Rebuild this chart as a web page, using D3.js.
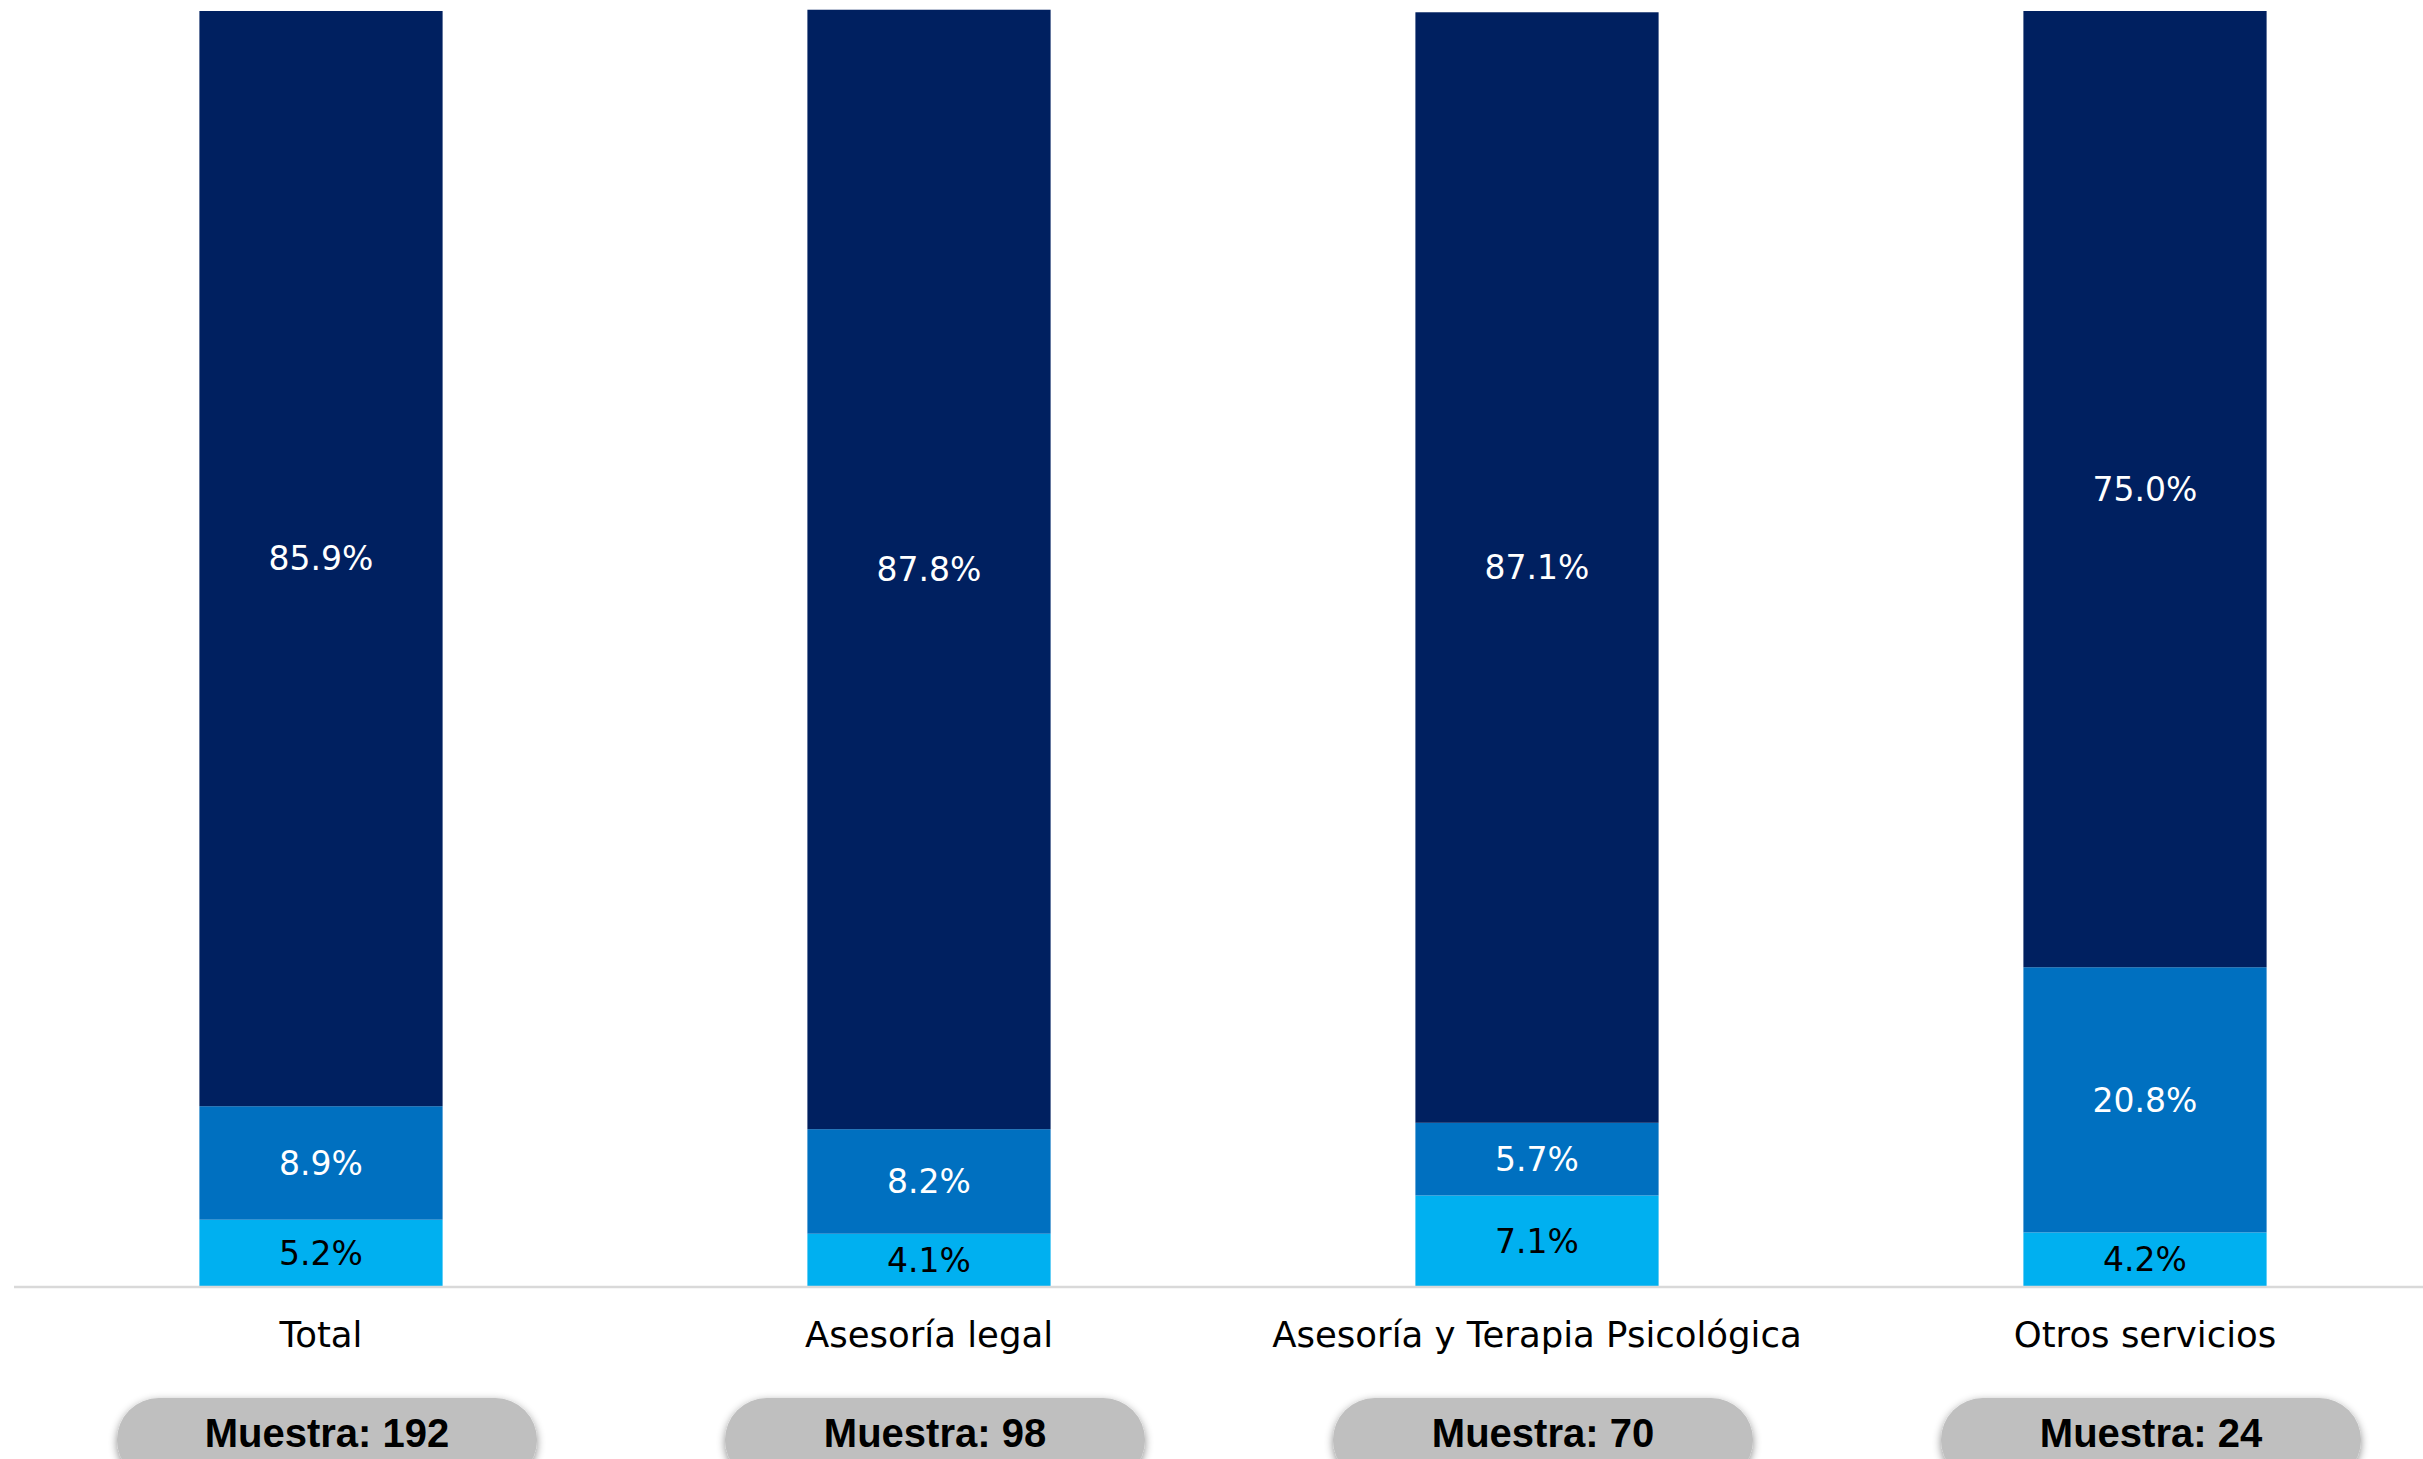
<!DOCTYPE html>
<html>
<head>
<meta charset="utf-8">
<script src="https://cdn.jsdelivr.net/npm/d3@7"></script>
<style>
  html, body { margin: 0; padding: 0; background: #ffffff; }
  svg { display: block; }
</style>
</head>
<body>
<svg id="chart" width="2423" height="1459"></svg>
<script>
// Service categories shown along the x axis
const categories = ["Total", "Asesoría legal", "Asesoría y Terapia Psicológica", "Otros servicios"];

// Stacked shares (%) per category, bottom to top
const seriesBottom = [5.2, 4.1, 7.1, 4.2];
const seriesMiddle = [8.9, 8.2, 5.7, 20.8];
const seriesTop    = [85.9, 87.8, 87.1, 75.0];

// Sample sizes shown under each category
const sampleSizes = [192, 98, 70, 24];

const seriesKeys = ["bottom", "middle", "top"];
const seriesColors = { bottom: "#00B0F0", middle: "#0070C0", top: "#002060" };
const labelColors  = { bottom: "#000000", middle: "#ffffff", top: "#ffffff" };

const rows = categories.map((c, i) => ({
  category: c,
  bottom: seriesBottom[i],
  middle: seriesMiddle[i],
  top: seriesTop[i],
  n: sampleSizes[i]
}));

const svg = d3.select("#chart");
const W = 2423, H = 1459;
const baseY = 1286, topY = 11;

const x = d3.scaleBand()
  .domain(categories)
  .range([17, 2449])
  .paddingInner(0.6)
  .paddingOuter(0.3);

const y = d3.scaleLinear()
  .domain([0, 100])
  .range([baseY, topY]);

const stacked = d3.stack().keys(seriesKeys)(rows);

// Drop shadow used by the sample-size pills
const defs = svg.append("defs");
const f = defs.append("filter").attr("id", "pillShadow")
  .attr("x", "-10%").attr("y", "-30%").attr("width", "120%").attr("height", "160%");
f.append("feDropShadow")
  .attr("dx", 0).attr("dy", 3)
  .attr("stdDeviation", 4)
  .attr("flood-color", "#000").attr("flood-opacity", 0.45);

// Stacked bars
const layers = svg.append("g").selectAll("g")
  .data(stacked)
  .join("g")
  .attr("fill", d => seriesColors[d.key]);

layers.selectAll("rect")
  .data(d => d.map(s => ({ s, key: d.key })))
  .join("rect")
  .attr("x", d => x(d.s.data.category))
  .attr("y", d => y(d.s[1]))
  .attr("width", x.bandwidth())
  .attr("height", d => y(d.s[0]) - y(d.s[1]));

// Segment value labels
const fmt = d3.format(".1f");
stacked.forEach(layer => {
  svg.append("g").selectAll("text")
    .data(layer)
    .join("text")
    .attr("x", d => x(d.data.category) + x.bandwidth() / 2)
    .attr("y", d => (y(d[0]) + y(d[1])) / 2)
    .attr("dy", "0.36em")
    .attr("text-anchor", "middle")
    .attr("font-family", "'DejaVu Sans', sans-serif")
    .attr("font-size", 33)
    .attr("fill", labelColors[layer.key])
    .text(d => fmt(d.data[layer.key]) + "%");
});

// Category axis
const axis = svg.append("g").attr("transform", `translate(0,${baseY})`);
axis.append("line")
  .attr("x1", 14).attr("x2", W)
  .attr("y1", 1).attr("y2", 1)
  .attr("stroke", "#d9d9d9").attr("stroke-width", 2.5);

axis.selectAll("text.cat")
  .data(categories)
  .join("text")
  .attr("class", "cat")
  .attr("x", d => x(d) + x.bandwidth() / 2)
  .attr("y", 61)
  .attr("text-anchor", "middle")
  .attr("font-family", "'DejaVu Sans', sans-serif")
  .attr("font-size", 35.5)
  .attr("fill", "#000")
  .text(d => d);

// Sample-size pills
const pillW = 420, pillH = 84;
const pills = svg.append("g").selectAll("g")
  .data(rows)
  .join("g")
  .attr("transform", d => `translate(${x(d.category) + x.bandwidth() / 2 + 6},1398)`);

pills.append("rect")
  .attr("x", -pillW / 2).attr("y", 0)
  .attr("width", pillW).attr("height", pillH)
  .attr("rx", pillH / 2).attr("ry", pillH / 2)
  .attr("fill", "#bfbfbf")
  .attr("filter", "url(#pillShadow)");

pills.append("text")
  .attr("x", 0).attr("y", 49)
  .attr("text-anchor", "middle")
  .attr("font-family", "'Liberation Sans', Arial, sans-serif")
  .attr("font-weight", "bold")
  .attr("font-size", 40)
  .attr("fill", "#000")
  .text(d => "Muestra: " + d.n);
</script>
</body>
</html>
